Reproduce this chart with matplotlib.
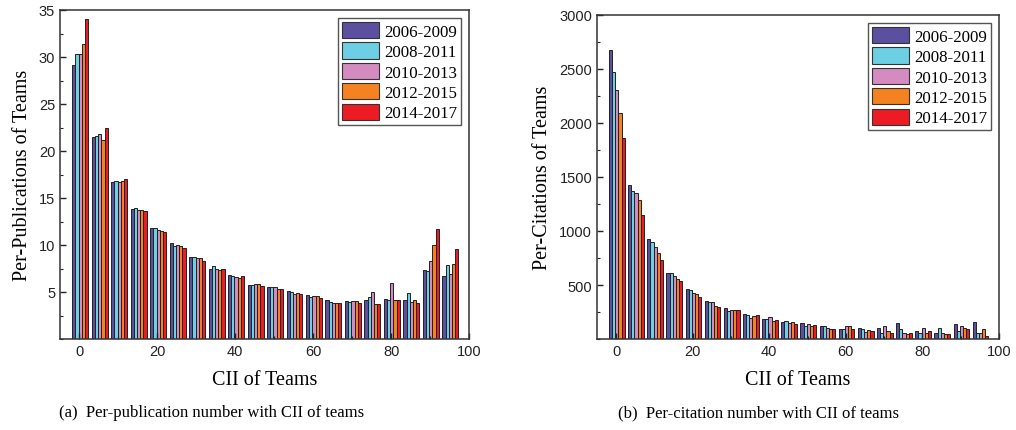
import matplotlib.pyplot as plt
import numpy as np
from matplotlib.patches import Patch
from matplotlib.ticker import MultipleLocator

# CII group positions
cii = [0, 5, 10, 15, 20, 25, 30, 35, 40, 45, 50, 55, 60, 65, 70, 75, 80, 85, 90, 95]
periods = ["2006-2009", "2008-2011", "2010-2013", "2012-2015", "2014-2017"]
colors = ["#5b4fa0", "#6dcfe3", "#d48bbf", "#f58220", "#ed1c24"]

# per-publication values, one list per period
pub_0609 = [29.2, 21.5, 16.7, 13.8, 11.8, 10.2, 8.7, 7.45, 6.8, 5.75, 5.55, 5.15, 4.7, 4.15, 4.05, 4.2, 4.3, 4.1, 7.3, 6.65]
pub_0811 = [30.3, 21.6, 16.8, 13.9, 11.8, 9.9, 8.7, 7.8, 6.75, 5.75, 5.5, 5.05, 4.45, 3.95, 3.95, 4.45, 4.2, 4.9, 7.2, 7.9]
pub_1013 = [30.3, 21.8, 16.7, 13.7, 11.6, 10.0, 8.65, 7.5, 6.6, 5.85, 5.5, 4.8, 4.55, 3.8, 4.0, 4.95, 5.95, 3.95, 8.35, 6.9]
pub_1215 = [31.4, 21.2, 16.8, 13.7, 11.5, 9.9, 8.6, 7.3, 6.5, 5.85, 5.35, 4.9, 4.55, 3.8, 4.0, 3.7, 4.1, 4.15, 10.0, 7.95]
pub_1417 = [34.0, 22.4, 17.0, 13.65, 11.4, 9.7, 8.35, 7.4, 6.65, 5.6, 5.3, 4.8, 4.4, 3.85, 3.8, 3.75, 4.15, 3.8, 11.7, 9.55]

# per-citation values, one list per period
cit_0609 = [2680, 1425, 930, 615, 465, 350, 285, 230, 185, 160, 145, 117, 93, 105, 100, 150, 70, 55, 140, 160]
cit_0811 = [2475, 1375, 900, 615, 450, 340, 255, 220, 185, 165, 125, 117, 93, 90, 60, 90, 55, 105, 77, 60]
cit_1013 = [2310, 1355, 855, 580, 430, 345, 265, 195, 200, 150, 135, 105, 120, 65, 125, 60, 100, 60, 117, 60]
cit_1215 = [2090, 1285, 795, 560, 420, 310, 265, 210, 170, 155, 120, 90, 117, 80, 70, 50, 60, 50, 99, 90]
cit_1417 = [1865, 1145, 730, 535, 390, 295, 265, 220, 175, 140, 130, 90, 96, 75, 60, 60, 75, 50, 93, 25]

pub_series = [pub_0609, pub_0811, pub_1013, pub_1215, pub_1417]
cit_series = [cit_0609, cit_0811, cit_1013, cit_1215, cit_1417]

plt.rcParams["font.family"] = ["Liberation Sans", "DejaVu Sans"]
serif = ["Liberation Serif", "DejaVu Serif"]

fig = plt.figure(figsize=(10.16, 4.31), dpi=100)
ax1 = fig.add_axes([60 / 1016, 1 - 340 / 431, 409 / 1016, 329 / 431])
ax2 = fig.add_axes([597 / 1016, 1 - 340 / 431, 402 / 1016, 324 / 431])

bar_w = 0.82
x = np.array(cii, dtype=float)


def draw_panel(ax, series, ylim, yticks, ylabel, yminor):
    for i, vals in enumerate(series):
        ax.bar(
            x + (i - 2) * bar_w + 0.2,
            vals,
            width=bar_w,
            color=colors[i],
            edgecolor="#222222",
            linewidth=0.7,
        )
    ax.set_xlim(-5, 100)
    ax.set_ylim(*ylim)
    ax.set_xticks([0, 20, 40, 60, 80, 100])
    ax.set_yticks(yticks)
    ax.yaxis.set_minor_locator(MultipleLocator(yminor))
    ax.xaxis.set_minor_locator(MultipleLocator(10))
    ax.tick_params(which="both", direction="in", labelsize=10.5, colors="#222222")
    ax.tick_params(which="major", length=4, width=1)
    ax.tick_params(which="minor", length=2.5, width=0.8)
    for sp in ax.spines.values():
        sp.set_linewidth(1.1)
        sp.set_color("#333333")
    ax.set_xlabel("CII of Teams", family=serif, fontsize=14.5, labelpad=9)
    ax.set_ylabel(ylabel, family=serif, fontsize=14.5, labelpad=5)
    handles = [Patch(facecolor=c, edgecolor="#333333", linewidth=0.8) for c in colors]
    leg = ax.legend(
        handles,
        periods,
        loc="upper right",
        prop={"family": serif, "size": 12.2},
        fancybox=False,
        framealpha=1,
        edgecolor="#555555",
        handlelength=2.2,
        handleheight=1.1,
        handletextpad=0.3,
        labelspacing=0.15,
        borderpad=0.2,
        borderaxespad=0.5,
    )
    leg.get_frame().set_linewidth(1.0)


draw_panel(ax1, pub_series, (0, 35), [5, 10, 15, 20, 25, 30, 35],
           "Per-Publications of Teams", 2.5)
draw_panel(ax2, cit_series, (0, 3000), [500, 1000, 1500, 2000, 2500, 3000],
           "Per-Citations of Teams", 250)

fig.text(212 / 1016, 1 - 413 / 431, "(a)  Per-publication number with CII of teams",
         family=serif, fontsize=12, ha="center", va="center")
fig.text(758 / 1016, 1 - 413 / 431, "(b)  Per-citation number with CII of teams",
         family=serif, fontsize=12, ha="center", va="center")

fig.savefig("out.png", dpi=100)
